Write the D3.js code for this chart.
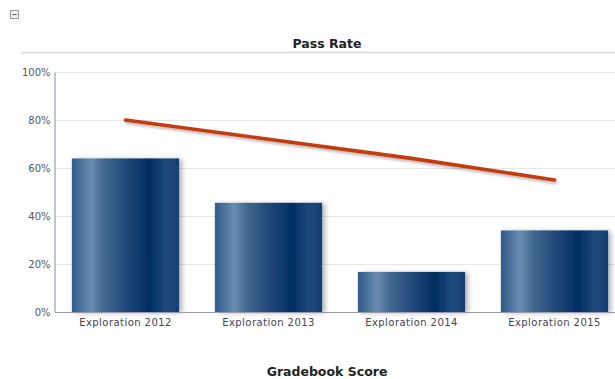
<!DOCTYPE html>
<html>
<head>
<meta charset="utf-8">
<script src="https://cdn.jsdelivr.net/npm/d3@7"></script>
<style>
  html, body { margin: 0; padding: 0; background: #fff; }
  svg { display: block; font-family: "DejaVu Sans", sans-serif; }
</style>
</head>
<body>
<svg id="chart" width="615" height="379"></svg>
<script>
// Gradebook categories and series
const categories = ["Exploration 2012", "Exploration 2013", "Exploration 2014", "Exploration 2015"];
const barValues = [0.64, 0.455, 0.167, 0.34];
const lineValues = [0.80, 0.72, 0.64, 0.55];
const yTicks = [0, 0.2, 0.4, 0.6, 0.8, 1.0];
const chartTitle = "Pass Rate";
const xTitle = "Gradebook Score";

const svg = d3.select("#chart");
const defs = svg.append("defs");

// Cylinder-like horizontal gradient for bars
const grad = defs.append("linearGradient").attr("id", "barGrad")
  .attr("x1", "0%").attr("x2", "100%").attr("y1", "0%").attr("y2", "0%");
[["0%", "#2f5a89"], ["18%", "#6a8cb0"], ["30%", "#42688f"], ["50%", "#23497a"],
 ["72%", "#002e63"], ["88%", "#1f4a7b"], ["100%", "#163f70"]]
  .forEach(([o, c]) => grad.append("stop").attr("offset", o).attr("stop-color", c));

const barShadow = defs.append("filter").attr("id", "barShadow")
  .attr("x", "-10%").attr("y", "-10%").attr("width", "130%").attr("height", "130%");
barShadow.append("feDropShadow").attr("dx", 3).attr("dy", 1).attr("stdDeviation", 2.5)
  .attr("flood-color", "#000").attr("flood-opacity", 0.3);

const lineShadow = defs.append("filter").attr("id", "lineShadow")
  .attr("x", "-10%").attr("y", "-50%").attr("width", "120%").attr("height", "200%");
lineShadow.append("feDropShadow").attr("dx", 1).attr("dy", 2).attr("stdDeviation", 1.5)
  .attr("flood-color", "#000").attr("flood-opacity", 0.3);

// Collapse control
svg.append("rect").attr("x", 10.5).attr("y", 10.5).attr("width", 8).attr("height", 8)
  .attr("fill", "#eeeeee").attr("stroke", "#9a9a9a");
svg.append("line").attr("x1", 12.5).attr("x2", 16.5).attr("y1", 14.5).attr("y2", 14.5)
  .attr("stroke", "#555");

// Title and separator
svg.append("text").attr("x", 327).attr("y", 48).attr("text-anchor", "middle")
  .attr("font-size", 12.5).attr("font-weight", "bold").attr("fill", "#222").text(chartTitle);
svg.append("line").attr("x1", 22).attr("x2", 615).attr("y1", 52.5).attr("y2", 52.5)
  .attr("stroke", "#d6d6dc").attr("stroke-width", 1.5);

const plotLeft = 55, plotTop = 72, plotBottom = 312;
const x = d3.scaleBand().domain(categories).range([plotLeft - 1, plotLeft - 1 + 4 * 143]).paddingInner(0.25).paddingOuter(0.125);
const y = d3.scaleLinear().domain([0, 1]).range([plotBottom, plotTop]);

// Grid
svg.append("g").selectAll("line").data(yTicks.slice(1)).join("line")
  .attr("x1", plotLeft).attr("x2", 615)
  .attr("y1", d => Math.round(y(d)) + 0.5).attr("y2", d => Math.round(y(d)) + 0.5)
  .attr("stroke", "#e6e6e6");

// Y axis
const yAxis = svg.append("g").attr("transform", `translate(${plotLeft - 0.5},0)`)
  .call(d3.axisLeft(y).tickValues(yTicks).tickFormat(d3.format(".0%")).tickSize(0).tickPadding(4));
yAxis.select(".domain").attr("stroke", "#8a8a9a");
yAxis.selectAll("text").attr("font-size", 10).attr("fill", "#55556a").attr("font-family", "DejaVu Sans, sans-serif");

// Bars
svg.append("g").selectAll("rect").data(barValues).join("rect")
  .attr("x", (d, i) => x(categories[i]))
  .attr("y", d => y(d))
  .attr("width", x.bandwidth())
  .attr("height", d => plotBottom - y(d))
  .attr("fill", "url(#barGrad)")
  .attr("filter", "url(#barShadow)");

// X axis
const xAxis = svg.append("g").attr("transform", `translate(0,${plotBottom + 0.5})`)
  .call(d3.axisBottom(x).tickSize(0).tickPadding(6));
xAxis.select(".domain").attr("stroke", "#9a9aaa").attr("d", `M${plotLeft},0H615`);
xAxis.selectAll("text").attr("font-size", 10).attr("letter-spacing", "0.45px")
  .attr("fill", "#44444f").attr("font-family", "DejaVu Sans, sans-serif");

// Line series
const line = d3.line()
  .x((d, i) => x(categories[i]) + x.bandwidth() / 2)
  .y(d => y(d));
svg.append("path").datum(lineValues)
  .attr("d", line)
  .attr("fill", "none")
  .attr("stroke", "#c43a0e")
  .attr("stroke-width", 3.6)
  .attr("stroke-linecap", "round")
  .attr("filter", "url(#lineShadow)");

// Axis title
svg.append("text").attr("x", 327).attr("y", 376).attr("text-anchor", "middle")
  .attr("font-size", 12.5).attr("font-weight", "bold").attr("fill", "#222").text(xTitle);
</script>
</body>
</html>
